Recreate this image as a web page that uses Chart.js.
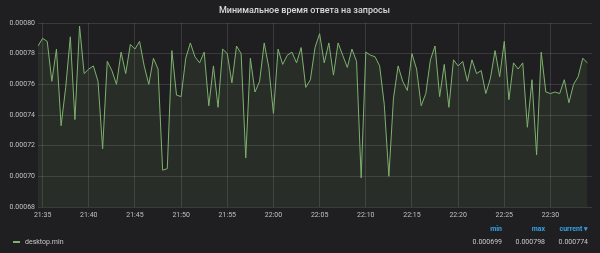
<!DOCTYPE html>
<html lang="ru">
<head>
    <meta charset="UTF-8">
    <title>Минимальное время ответа на запросы</title>
    <style>
        body { margin: 0; background: #1f1f21; }
        #panel {
            position: relative;
            width: 600px;
            height: 253px;
            background: #1f1f21;
            font-family: Roboto, sans-serif;
            overflow: hidden;
        }
        #chart { position: absolute; left: 0; top: 0; }
        #title {
            position: absolute;
            top: 4px;
            left: 0;
            width: 609px;
            text-align: center;
            color: #d8d9da;
            font-size: 9px;
            font-weight: 500;
            line-height: 12px;
        }
        .lg {
            position: absolute;
            font-size: 7px;
            line-height: 10px;
            color: #c8c8c8;
            white-space: nowrap;
        }
        .hd { color: #33a2e5; font-weight: 700; }
        .num { text-align: right; }
        #swatch {
            position: absolute;
            left: 13px;
            top: 241px;
            width: 7px;
            height: 2px;
            background: #7eb26d;
        }
    </style>
</head>
<body>
<div id="panel">
    <canvas id="chart" width="600" height="253"></canvas>
    <div id="title">Минимальное время ответа на запросы</div>
    <div id="swatch"></div>
    <div class="lg" id="seriesName" style="left:25px; top:237px;">desktop.min</div>
    <div class="lg hd num" style="right:98px; top:224px;">min</div>
    <div class="lg hd num" style="right:55px; top:224px;">max</div>
    <div class="lg hd num" style="right:12px; top:224px;">current ▾</div>
    <div class="lg num" id="vMin" style="right:98px; top:237px;"></div>
    <div class="lg num" id="vMax" style="right:55px; top:237px;"></div>
    <div class="lg num" id="vCur" style="right:12px; top:237px;"></div>
</div>

<script src="https://cdn.jsdelivr.net/npm/chart.js"></script>
<script>
    // series name
    const seriesName = 'desktop.min';

    // sample times (every 30 s)
    const times = [
        '21:34:30', '21:35:00', '21:35:30', '21:36:00', '21:36:30', '21:37:00', '21:37:30', '21:38:00', '21:38:30', '21:39:00',
        '21:39:30', '21:40:00', '21:40:30', '21:41:00', '21:41:30', '21:42:00', '21:42:30', '21:43:00', '21:43:30', '21:44:00',
        '21:44:30', '21:45:00', '21:45:30', '21:46:00', '21:46:30', '21:47:00', '21:47:30', '21:48:00', '21:48:30', '21:49:00',
        '21:49:30', '21:50:00', '21:50:30', '21:51:00', '21:51:30', '21:52:00', '21:52:30', '21:53:00', '21:53:30', '21:54:00',
        '21:54:30', '21:55:00', '21:55:30', '21:56:00', '21:56:30', '21:57:00', '21:57:30', '21:58:00', '21:58:30', '21:59:00',
        '21:59:30', '22:00:00', '22:00:30', '22:01:00', '22:01:30', '22:02:00', '22:02:30', '22:03:00', '22:03:30', '22:04:00',
        '22:04:30', '22:05:00', '22:05:30', '22:06:00', '22:06:30', '22:07:00', '22:07:30', '22:08:00', '22:08:30', '22:09:00',
        '22:09:30', '22:10:00', '22:10:30', '22:11:00', '22:11:30', '22:12:00', '22:12:30', '22:13:00', '22:13:30', '22:14:00',
        '22:14:30', '22:15:00', '22:15:30', '22:16:00', '22:16:30', '22:17:00', '22:17:30', '22:18:00', '22:18:30', '22:19:00',
        '22:19:30', '22:20:00', '22:20:30', '22:21:00', '22:21:30', '22:22:00', '22:22:30', '22:23:00', '22:23:30', '22:24:00',
        '22:24:30', '22:25:00', '22:25:30', '22:26:00', '22:26:30', '22:27:00', '22:27:30', '22:28:00', '22:28:30', '22:29:00',
        '22:29:30', '22:30:00', '22:30:30', '22:31:00', '22:31:30', '22:32:00', '22:32:30', '22:33:00', '22:33:30', '22:34:00'
    ];

    // desktop.min values
    const values = [
        0.000785, 0.000790, 0.000788, 0.000762, 0.000783, 0.000733, 0.000758, 0.000791, 0.000737, 0.000798,
        0.000767, 0.000770, 0.000772, 0.000762, 0.000718, 0.000775, 0.000769, 0.000760, 0.000781, 0.000767,
        0.000786, 0.000783, 0.000788, 0.000772, 0.000760, 0.000777, 0.000770, 0.000704, 0.000705, 0.000782,
        0.000753, 0.000752, 0.000777, 0.000787, 0.000778, 0.000774, 0.000781, 0.000746, 0.000772, 0.000745,
        0.000783, 0.000780, 0.000761, 0.000785, 0.000780, 0.000712, 0.000777, 0.000755, 0.000762, 0.000787,
        0.000771, 0.000741, 0.000783, 0.000773, 0.000779, 0.000781, 0.000774, 0.000784, 0.000758, 0.000763,
        0.000784, 0.000793, 0.000774, 0.000787, 0.000766, 0.000787, 0.000779, 0.000771, 0.000783, 0.000775,
        0.000699, 0.000781, 0.000779, 0.000778, 0.000772, 0.000747, 0.000700, 0.000751, 0.000772, 0.000762,
        0.000756, 0.000780, 0.000770, 0.000746, 0.000754, 0.000776, 0.000785, 0.000752, 0.000773, 0.000745,
        0.000776, 0.000772, 0.000775, 0.000762, 0.000776, 0.000767, 0.000769, 0.000754, 0.000764, 0.000782,
        0.000765, 0.000788, 0.000750, 0.000774, 0.000770, 0.000774, 0.000732, 0.000763, 0.000714, 0.000781,
        0.000755, 0.000754, 0.000755, 0.000754, 0.000763, 0.000748, 0.000760, 0.000765, 0.000777, 0.000774
    ];

    // axis ticks
    const xTickLabels = ['21:35', '21:40', '21:45', '21:50', '21:55', '22:00', '22:05', '22:10', '22:15', '22:20', '22:25', '22:30'];
    const yTickLabels = ['0.00068', '0.00070', '0.00072', '0.00074', '0.00076', '0.00078', '0.00080'];
    const xRange = ['21:34:30', '22:34:30'];

    // "HH:MM[:SS]" -> minutes
    function toMin(t) {
        const p = t.split(':').map(Number);
        return p[0] * 60 + p[1] + (p[2] || 0) / 60;
    }

    const points = times.map((t, i) => ({ x: toMin(t), y: values[i] }));

    // legend stats
    document.getElementById('vMin').textContent = Math.min(...values).toFixed(6);
    document.getElementById('vMax').textContent = Math.max(...values).toFixed(6);
    document.getElementById('vCur').textContent = values[values.length - 1].toFixed(6);

    const gridColor = 'rgba(255, 255, 255, 0.12)';
    const tickFont = { family: 'Roboto', size: 7 };

    const ctx = document.getElementById('chart').getContext('2d');
    new Chart(ctx, {
        type: 'line',
        data: {
            datasets: [{
                label: seriesName,
                data: points,
                borderColor: '#7eb26d',
                backgroundColor: 'rgba(126, 178, 109, 0.1)',
                borderWidth: 1,
                pointRadius: 0,
                tension: 0,
                fill: 'start'
            }]
        },
        options: {
            responsive: false,
            animation: false,
            layout: { padding: { top: 23, right: 8, left: 0, bottom: 0 } },
            plugins: {
                legend: { display: false },
                title: { display: false },
                tooltip: { enabled: false }
            },
            scales: {
                x: {
                    type: 'linear',
                    min: toMin(xRange[0]),
                    max: toMin(xRange[1]),
                    afterBuildTicks: s => { s.ticks = xTickLabels.map(l => ({ value: toMin(l) })); },
                    afterFit: s => { s.height = 46; },
                    grid: { color: gridColor, drawTicks: false },
                    border: { display: false },
                    ticks: {
                        color: '#c0c0c0',
                        font: tickFont,
                        padding: 4,
                        maxRotation: 0,
                        autoSkip: false,
                        callback: v => {
                            const i = xTickLabels.findIndex(l => Math.abs(toMin(l) - v) < 1e-6);
                            return i >= 0 ? xTickLabels[i] : '';
                        }
                    }
                },
                y: {
                    min: parseFloat(yTickLabels[0]),
                    max: parseFloat(yTickLabels[yTickLabels.length - 1]),
                    afterBuildTicks: s => { s.ticks = yTickLabels.map(l => ({ value: parseFloat(l) })); },
                    afterFit: s => { s.width = 38; },
                    grid: { color: gridColor, drawTicks: false },
                    border: { display: false },
                    ticks: {
                        color: '#c0c0c0',
                        font: tickFont,
                        padding: 3,
                        autoSkip: false,
                        callback: v => {
                            const i = yTickLabels.findIndex(l => Math.abs(parseFloat(l) - v) < 1e-9);
                            return i >= 0 ? yTickLabels[i] : '';
                        }
                    }
                }
            }
        }
    });
</script>
</body>
</html>
